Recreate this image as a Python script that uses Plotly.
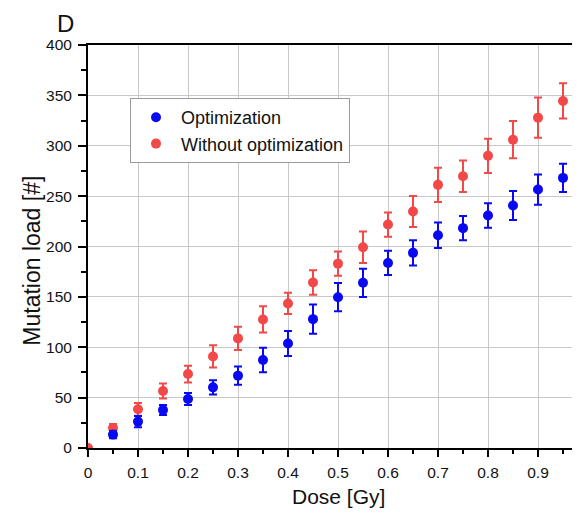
import plotly.graph_objects as go

dose_opt = [0.05, 0.1, 0.15, 0.2, 0.25, 0.3, 0.35, 0.4, 0.45, 0.5,
            0.55, 0.6, 0.65, 0.7, 0.75, 0.8, 0.85, 0.9, 0.95]
load_opt = [13.3, 26.2, 37.7, 48.6, 60.2, 71.8, 87.3, 103.8, 127.9, 149.7,
            164.0, 183.7, 193.7, 211.2, 218.2, 230.7, 240.7, 256.5, 268.1]
err_opt = [3.5, 5.5, 5.0, 6.0, 7.0, 9.0, 12.2, 12.4, 14.6, 14.0,
           14.0, 12.0, 12.5, 12.6, 12.0, 12.2, 14.5, 15.0, 14.0]

dose_wo = [0.0, 0.05, 0.1, 0.15, 0.2, 0.25, 0.3, 0.35, 0.4, 0.45, 0.5,
           0.55, 0.6, 0.65, 0.7, 0.75, 0.8, 0.85, 0.9, 0.95]
load_wo = [0.0, 19.8, 38.4, 56.5, 73.4, 90.9, 108.8, 127.6, 143.5, 164.3, 183.0,
           199.3, 221.8, 234.7, 261.2, 269.7, 290.0, 306.0, 327.9, 344.5]
err_wo = [0.0, 4.0, 6.3, 7.4, 8.3, 11.0, 11.6, 13.0, 10.6, 12.2, 12.0,
          15.6, 12.0, 15.4, 17.0, 15.6, 17.0, 18.5, 20.0, 17.5]

x_ticks = [0, 0.1, 0.2, 0.3, 0.4, 0.5, 0.6, 0.7, 0.8, 0.9]
x_ticklabels = ["0", "0.1", "0.2", "0.3", "0.4", "0.5", "0.6", "0.7", "0.8", "0.9"]

RED = "#F24848"
BLUE = "#0808F2"
FONT = "Liberation Sans, Arial, sans-serif"

fig = go.Figure()
fig.add_trace(go.Scatter(
    x=dose_wo, y=load_wo, mode="markers", name="Without optimization",
    legendrank=2,
    marker=dict(color=RED, size=10),
    error_y=dict(type="data", array=err_wo, color=RED, thickness=2, width=4),
))
fig.add_trace(go.Scatter(
    x=dose_opt, y=load_opt, mode="markers", name="Optimization",
    legendrank=1,
    marker=dict(color=BLUE, size=10),
    error_y=dict(type="data", array=err_opt, color=BLUE, thickness=2, width=4),
))

# page has an 8px body margin: figure occupies page x 8..580, y 8..514
OFF = 8
L, R, T, B = 88 - OFF, 0, 45 - OFF, 66
PX0, PY0, PW, PH = 88, 448, 492, 403  # plot area in page pixels


def px(xp):
    return (xp - PX0) / PW


def py(yp):
    return (PY0 - yp) / PH


fig.update_layout(
    width=580 - OFF, height=514 - OFF,
    margin=dict(l=L, r=R, t=T, b=B, pad=0),
    paper_bgcolor="white", plot_bgcolor="white",
    font=dict(family=FONT, color="#111"),
    showlegend=True,
    legend=dict(
        x=px(130), y=py(98), xanchor="left", yanchor="top",
        bgcolor="white", bordercolor="#9a9a9a", borderwidth=1,
        font=dict(size=18, family=FONT, color="#111"),
        itemwidth=40, tracegroupgap=0,
    ),
    xaxis=dict(
        range=[0, 0.984], tickvals=x_ticks, ticktext=x_ticklabels,
        showgrid=True, gridcolor="#c8c8c8", gridwidth=1, zeroline=False,
        showline=True, linecolor="black", linewidth=2, mirror=True,
        ticks="outside", ticklen=7, tickwidth=2, tickcolor="black",
        minor=dict(dtick=0.05, tick0=0, ticks="outside", ticklen=4, tickwidth=2,
                   tickcolor="black", showgrid=False),
        tickfont=dict(size=15.5, family=FONT, color="#111"),
        ticklabelstandoff=2,
    ),
    yaxis=dict(
        range=[0, 400], dtick=50, tick0=0,
        showgrid=True, gridcolor="#c8c8c8", gridwidth=1, zeroline=False,
        showline=True, linecolor="black", linewidth=2, mirror=False,
        ticks="outside", ticklen=8, tickwidth=2, tickcolor="black",
        minor=dict(dtick=25, tick0=0, ticks="outside", ticklen=5, tickwidth=2,
                   tickcolor="black", showgrid=False),
        tickfont=dict(size=15.5, family=FONT, color="#111"),
        ticklabelstandoff=3,
    ),
    annotations=[
        dict(text="D", xref="paper", yref="paper", x=px(65.5), y=py(9),
             xanchor="center", yanchor="top", showarrow=False, borderpad=0,
             font=dict(size=24, family=FONT, color="#111")),
        dict(text="Mutation load [#]", xref="paper", yref="paper",
             x=px(32), y=py(260.7), textangle=-90,
             xanchor="center", yanchor="middle", showarrow=False,
             font=dict(size=23, family=FONT, color="#111")),
        dict(text="Dose [Gy]", xref="paper", yref="paper",
             x=px(338.5), y=py(497),
             xanchor="center", yanchor="middle", showarrow=False,
             font=dict(size=21, family=FONT, color="#111")),
    ],
)

fig.write_html("out.html")
